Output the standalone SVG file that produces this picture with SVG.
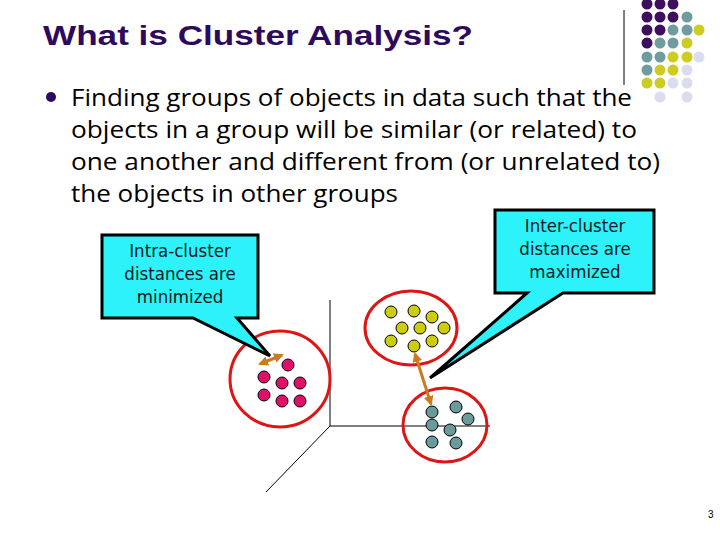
<svg xmlns="http://www.w3.org/2000/svg" width="720" height="540" viewBox="0 0 720 540">
<style>
.title{font-family:"Liberation Sans",Arial,sans-serif;font-weight:bold;font-size:28px;fill:#2e0a5e}
.body{font-family:"Open Sans","Noto Sans",sans-serif;font-size:23px;fill:#000}
.call{font-family:"DejaVu Sans Condensed","DejaVu Sans",sans-serif;font-size:18.5px;fill:#082020;text-anchor:middle}
.bubble{fill:#2ef2fa;stroke:#000;stroke-width:3;stroke-linejoin:miter}
.ring{fill:none;stroke:#dd1515;stroke-width:3}
.r{fill:#e0106a;stroke:#000;stroke-width:1}
.y{fill:#cccc10;stroke:#000;stroke-width:1}
.t{fill:#6a9a9a;stroke:#000;stroke-width:1}
.axis{stroke:#000;stroke-width:1;fill:none}
.arrow{stroke:#cc7a1e;stroke-width:3;fill:none;marker-start:url(#ah);marker-end:url(#ah)}
.gp{fill:#3d0f5c}.gt{fill:#6f9d9f}.gy{fill:#cccc22}.gl{fill:#dcdcf0}
</style>
<defs>
<marker id="ah" viewBox="0 0 10 10" refX="8" refY="5" markerWidth="3.3" markerHeight="3.3" orient="auto-start-reverse" markerUnits="strokeWidth">
<path d="M0,0 L10,5 L0,10 z" fill="#cc7a1e"/>
</marker>
</defs>
<rect width="720" height="540" fill="#fff"/>
<text class="title" x="43" y="45" textLength="430" lengthAdjust="spacingAndGlyphs">What is Cluster Analysis?</text>
<line x1="624" y1="10" x2="624" y2="85" stroke="#000" stroke-width="1"/>
<g id="dotgrid">
<circle class="gp" cx="647" cy="4" r="5.5"/><circle class="gp" cx="660" cy="4" r="5.5"/><circle class="gp" cx="673" cy="4" r="5.5"/>
<circle class="gp" cx="647" cy="17" r="5.5"/><circle class="gp" cx="660" cy="17" r="5.5"/><circle class="gp" cx="673" cy="17" r="5.5"/><circle class="gt" cx="687" cy="17" r="5.5"/>
<circle class="gp" cx="647" cy="30" r="5.5"/><circle class="gp" cx="660" cy="30" r="5.5"/><circle class="gt" cx="673" cy="30" r="5.5"/><circle class="gt" cx="687" cy="30" r="5.5"/><circle class="gy" cx="699" cy="30" r="5.5"/>
<circle class="gp" cx="647" cy="43" r="5.5"/><circle class="gt" cx="660" cy="43" r="5.5"/><circle class="gt" cx="673" cy="43" r="5.5"/><circle class="gy" cx="687" cy="43" r="5.5"/>
<circle class="gt" cx="647" cy="57" r="5.5"/><circle class="gt" cx="660" cy="57" r="5.5"/><circle class="gy" cx="673" cy="57" r="5.5"/><circle class="gy" cx="687" cy="57" r="5.5"/><circle class="gl" cx="699" cy="57" r="5.5"/>
<circle class="gt" cx="647" cy="70" r="5.5"/><circle class="gy" cx="660" cy="70" r="5.5"/><circle class="gy" cx="673" cy="70" r="5.5"/><circle class="gl" cx="687" cy="70" r="5.5"/>
<circle class="gy" cx="647" cy="83" r="5.5"/><circle class="gy" cx="660" cy="83" r="5.5"/><circle class="gl" cx="673" cy="83" r="5.5"/><circle class="gl" cx="687" cy="83" r="5.5"/>
<circle class="gl" cx="660" cy="97" r="5.5"/><circle class="gl" cx="687" cy="97" r="5.5"/>
</g>
<g id="bullet">
<circle cx="51" cy="97" r="5" fill="#2e0a5e"/>
<text class="body" x="71" y="106" textLength="561" lengthAdjust="spacingAndGlyphs">Finding groups of objects in data such that the</text>
<text class="body" x="71" y="138" textLength="566" lengthAdjust="spacingAndGlyphs">objects in a group will be similar (or related) to</text>
<text class="body" x="71" y="170" textLength="589" lengthAdjust="spacingAndGlyphs">one another and different from (or unrelated to)</text>
<text class="body" x="71" y="202" textLength="327" lengthAdjust="spacingAndGlyphs">the objects in other groups</text>
</g>
<g id="axes">
<line class="axis" x1="330" y1="300" x2="330" y2="426"/>
<line class="axis" x1="330" y1="426" x2="490" y2="426"/>
<line class="axis" x1="330" y1="426" x2="266" y2="492"/>
</g>
<g id="cluster-red">
<ellipse class="ring" cx="280" cy="379" rx="50" ry="48"/>
<circle class="r" cx="288" cy="365" r="6"/>
<circle class="r" cx="264" cy="377" r="6"/>
<circle class="r" cx="282" cy="383" r="6"/>
<circle class="r" cx="300" cy="383" r="6"/>
<circle class="r" cx="264" cy="395" r="6"/>
<circle class="r" cx="282" cy="401" r="6"/>
<circle class="r" cx="300" cy="401" r="6"/>
</g>
<g id="cluster-yellow">
<ellipse class="ring" cx="411" cy="328" rx="46" ry="37"/>
<circle class="y" cx="391" cy="312" r="6"/>
<circle class="y" cx="414" cy="311" r="6"/>
<circle class="y" cx="432" cy="317" r="6"/>
<circle class="y" cx="402" cy="328" r="6"/>
<circle class="y" cx="420" cy="328" r="6"/>
<circle class="y" cx="444" cy="328" r="6"/>
<circle class="y" cx="391" cy="341" r="6"/>
<circle class="y" cx="414" cy="346" r="6"/>
<circle class="y" cx="432" cy="341" r="6"/>
</g>
<g id="cluster-teal">
<ellipse class="ring" cx="445" cy="425" rx="42" ry="37"/>
<circle class="t" cx="432" cy="412" r="6"/>
<circle class="t" cx="456" cy="407" r="6"/>
<circle class="t" cx="468" cy="419" r="6"/>
<circle class="t" cx="432" cy="425" r="6"/>
<circle class="t" cx="450" cy="430" r="6"/>
<circle class="t" cx="432" cy="442" r="6"/>
<circle class="t" cx="456" cy="443" r="6"/>
</g>
<g id="connectors">
<line class="arrow" x1="260" y1="364" x2="282" y2="355"/>
<line class="arrow" x1="415" y1="354" x2="431" y2="404"/>
</g>
<g id="callout-intra">
<path class="bubble" d="M102,235 H258 V318 H237 L270,356 L193,318 H102 Z"/>
<text class="call" x="180" y="257">Intra-cluster</text>
<text class="call" x="180" y="280">distances are</text>
<text class="call" x="180" y="303">minimized</text>
</g>
<g id="callout-inter">
<path class="bubble" d="M495,210 H654 V293 H563 L430,378 L527,293 H495 Z"/>
<text class="call" x="575" y="232">Inter-cluster</text>
<text class="call" x="575" y="255">distances are</text>
<text class="call" x="575" y="278">maximized</text>
</g>
<text x="708" y="518" font-family="Liberation Sans,Arial,sans-serif" font-size="10" fill="#000">3</text>
</svg>
